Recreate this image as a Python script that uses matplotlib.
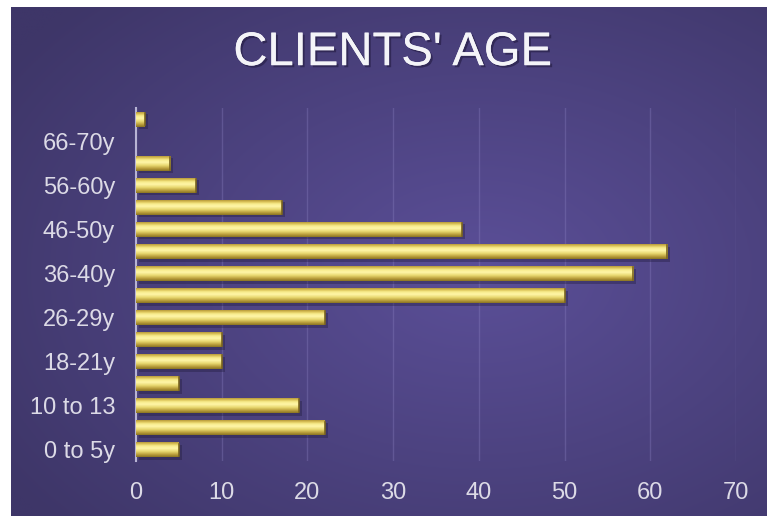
import numpy as np
import matplotlib
matplotlib.use("Agg")
import matplotlib.pyplot as plt
import matplotlib.patheffects as pe

ages = ["0 to 5y", "6 to 9y", "10 to 13", "14-17y", "18-21y", "22-25y",
        "26-29y", "30-35y", "36-40y", "41-45y", "46-50y", "51-55y",
        "56-60y", "61-65y", "66-70y", "71y+"]
clients = [5, 22, 19, 5, 10, 10, 22, 50, 58, 62, 38, 17, 7, 4, 0, 1]
xticks = [0, 10, 20, 30, 40, 50, 60, 70]

plt.rcParams["font.family"] = ["Liberation Sans", "DejaVu Sans"]

fig = plt.figure(figsize=(7.67, 5.16), dpi=100)
fig.patch.set_facecolor("white")

# purple panel with a soft radial glow
bg = fig.add_axes([11 / 767, 0, 756 / 767, 509 / 516])
bg.set_axis_off()
yy, xx = np.mgrid[0:1:300j, 0:1:450j]
r = np.sqrt(((xx - 0.62) / 0.75) ** 2 + ((yy - 0.48) / 0.75) ** 2)
r = np.clip(r, 0, 1)
c0 = np.array([0x5b, 0x4f, 0x98]) / 255
c1 = np.array([0x3e, 0x36, 0x68]) / 255
img = c0[None, None, :] * (1 - r[..., None]) + c1[None, None, :] * r[..., None]
bg.imshow(img, aspect="auto", extent=[0, 1, 0, 1], origin="lower")
bg.set_xlim(0, 1)
bg.set_ylim(0, 1)

fig.text(0.512, 0.897, "CLIENTS' AGE", ha="center", va="center",
         fontsize=34, color="#f4f4f8",
         path_effects=[pe.withSimplePatchShadow(offset=(1.5, -1.5), shadow_rgbFace="#221a40", alpha=0.6),
                       pe.Normal()])

ax = fig.add_axes([136 / 767, 1 - 461 / 516, 600 / 767, 353 / 516])
ax.patch.set_alpha(0)
y = np.arange(len(ages))

# shadows
ax.barh(y - 0.12, clients, left=0.35, height=0.68, color="#1e1838", alpha=0.35,
        linewidth=0, zorder=2)
bars = ax.barh(y, clients, height=0.68, color="#c9b04a", linewidth=0, zorder=3)

# bevelled gold look
grad = np.array([0.0, 0.15, 0.35, 0.55, 0.7, 0.8, 0.9, 1.0])
cols = np.array([
    [0x8a, 0x74, 0x22],
    [0xb8, 0x9c, 0x3a],
    [0xe8, 0xd8, 0x70],
    [0xff, 0xf6, 0xa8],
    [0xf8, 0xec, 0x8e],
    [0xe2, 0xcc, 0x62],
    [0xc4, 0xa8, 0x44],
    [0xa8, 0x8c, 0x30],
]) / 255
gy = np.linspace(0, 1, 64)
gimg = np.stack([np.interp(gy, grad, cols[:, k]) for k in range(3)], axis=-1)[:, None, :]
for b in bars:
    w = b.get_width()
    if w <= 0:
        continue
    y0 = b.get_y()
    h = b.get_height()
    im = ax.imshow(gimg, aspect="auto", extent=[0, w, y0, y0 + h],
                   origin="lower", zorder=4, interpolation="bilinear")
    im.set_clip_path(b)
    # dark end cap
    ax.plot([w, w], [y0 + 0.05, y0 + h - 0.05], color="#7a6520", lw=1.2, zorder=5)

ax.set_xlim(0, 70)
ax.set_ylim(-0.5, len(ages) - 0.5)
ax.set_xticks(xticks)
ax.set_yticks(y[::2])
ax.set_yticklabels(ages[::2])
ax.tick_params(length=0, labelsize=17, colors="#dcdae6")
ax.tick_params(axis="y", pad=15)
ax.tick_params(axis="x", pad=15)
ax.grid(axis="x", color="#8a80c0", alpha=0.35, linewidth=1)
ax.set_axisbelow(True)
for s in ["top", "right", "bottom"]:
    ax.spines[s].set_visible(False)
ax.spines["left"].set_color("#b8b4d4")
ax.spines["left"].set_linewidth(1.5)

fig.savefig("out.png", dpi=100, facecolor=fig.get_facecolor())
